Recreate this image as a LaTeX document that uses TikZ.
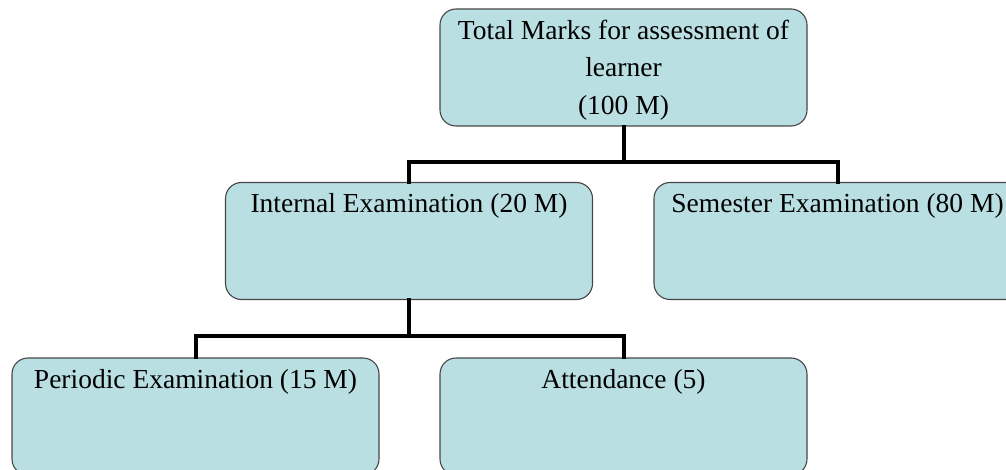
\documentclass[tikz,border=0pt]{standalone}
\usepackage{fontspec}
\setmainfont{Liberation Serif}
\definecolor{boxfill}{RGB}{185,223,227}
\definecolor{boxline}{RGB}{70,70,70}
\tikzset{
  box/.style={draw=boxline, line width=1.1pt, fill=boxfill, rounded corners=16pt,
    minimum width=367pt, minimum height=117pt, inner sep=0pt},
  lbl/.style={anchor=base, yshift=-31pt, inner sep=0pt, align=center,
    font=\fontsize{27.5}{37.5}\selectfont},
  conn/.style={line width=4pt, line join=miter, line cap=rect},
}
\begin{document}
\begin{tikzpicture}[x=1pt,y=-1pt]
\useasboundingbox (0,0) rectangle (1006,470);
\clip (0,0) rectangle (1006,470);
\node[box, label={[lbl, yshift=-75pt]north:Total Marks for assessment of\\learner\\(100 M)}] (top) at (623.5,67.5) {};
\node[box, label={[lbl]north:Internal Examination (20 M)}] (int) at (409,241) {};
\node[box, label={[lbl]north:Semester Examination (80 M)}] (sem) at (837.5,241) {};
\node[box, label={[lbl]north:Periodic Examination (15 M)}] (per) at (195.5,416.5) {};
\node[box, label={[lbl]north:Attendance (5)}] (att) at (623.5,416.5) {};
\coordinate (j1) at (623.5,162.5);
\coordinate (j2) at (409,336);
\draw[conn] (top.south) -- (j1);
\draw[conn] (int.north) |- (j1) -| (sem.north);
\draw[conn] (int.south) -- (j2);
\draw[conn] (per.north) |- (j2) -| (att.north);
\end{tikzpicture}
\end{document}
